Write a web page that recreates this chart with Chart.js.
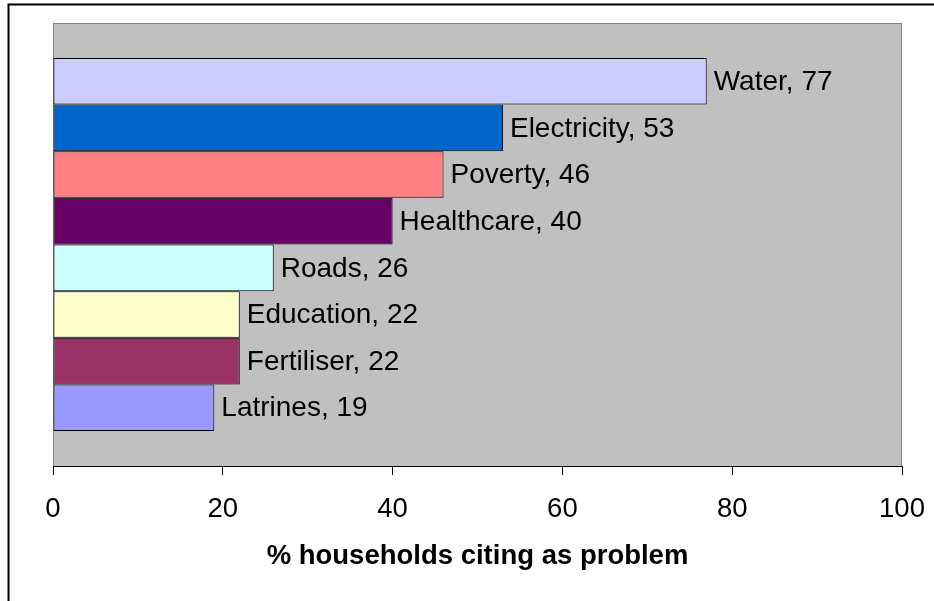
<!DOCTYPE html>
<html>
<head>
<meta charset="utf-8">
<script src="https://cdn.jsdelivr.net/npm/chart.js@4"></script>
<style>
  html, body { margin: 0; padding: 0; background: #fff; }
  canvas { display: block; }
</style>
</head>
<body>
<canvas id="chart" width="934" height="601"></canvas>
<script>
// Problems cited by households (% of households)
const categories = ['Water', 'Electricity', 'Poverty', 'Healthcare', 'Roads', 'Education', 'Fertiliser', 'Latrines'];
const values = [77, 53, 46, 40, 26, 22, 22, 19];
const barColors = ['#CCCCFF', '#0066CC', '#FF8080', '#660066', '#CCFFFF', '#FFFFCC', '#993366', '#9999FF'];
const xTickValues = [0, 20, 40, 60, 80, 100];
const axisTitle = '% households citing as problem';

const FONT = "'Liberation Sans', Arial, sans-serif";

// One category row, one dataset per problem so the bars sit flush together
const datasets = categories.map((name, i) => ({
  label: name,
  data: [values[i]],
  backgroundColor: barColors[i],
  borderColor: '#000000',
  borderWidth: 1,
  borderSkipped: false,
  categoryPercentage: 0.842,
  barPercentage: 1
}));

// Page background, grey plot area and the frame line on the left/top
const backdrop = {
  id: 'backdrop',
  beforeDraw(chart) {
    const { ctx, chartArea: a } = chart;
    ctx.save();
    ctx.fillStyle = '#ffffff';
    ctx.fillRect(0, 0, chart.width, chart.height);
    ctx.strokeStyle = '#000000';
    ctx.lineWidth = 2;
    ctx.beginPath();
    ctx.moveTo(8.5, chart.height);
    ctx.lineTo(8.5, 4.5);
    ctx.lineTo(chart.width, 4.5);
    ctx.stroke();
    ctx.fillStyle = '#C0C0C0';
    ctx.fillRect(a.left, a.top, a.right - a.left, a.bottom - a.top);
    ctx.strokeStyle = '#808080';
    ctx.lineWidth = 1;
    ctx.strokeRect(a.left + 0.5, a.top + 0.5, a.right - a.left - 1, a.bottom - a.top);
    ctx.restore();
  }
};

// "Name, value" text just past the end of each bar
const barLabels = {
  id: 'barLabels',
  afterDatasetsDraw(chart) {
    const { ctx } = chart;
    ctx.save();
    ctx.font = '28px ' + FONT;
    ctx.fillStyle = '#000000';
    ctx.textAlign = 'left';
    ctx.textBaseline = 'middle';
    chart.data.datasets.forEach((ds, i) => {
      const bar = chart.getDatasetMeta(i).data[0];
      ctx.fillText(ds.label + ', ' + ds.data[0], bar.x + 7, bar.y + 1);
    });
    ctx.restore();
  }
};

new Chart(document.getElementById('chart'), {
  type: 'bar',
  data: { labels: [''], datasets },
  options: {
    indexAxis: 'y',
    responsive: false,
    animation: false,
    devicePixelRatio: 1,
    layout: { padding: { left: 53, right: 32, top: 23, bottom: 0 } },
    plugins: {
      legend: { display: false },
      tooltip: { enabled: false }
    },
    scales: {
      y: { display: false },
      x: {
        min: 0,
        max: 100,
        afterBuildTicks(scale) {
          scale.ticks = xTickValues.map(v => ({ value: v }));
        },
        afterFit(scale) {
          scale.height = 135;
          scale.paddingLeft = 0;
          scale.paddingRight = 0;
        },
        grid: {
          drawOnChartArea: false,
          drawTicks: true,
          tickLength: 9,
          tickColor: '#000000',
          lineWidth: 1
        },
        border: { display: true, color: '#000000', width: 1 },
        ticks: {
          color: '#000000',
          font: { family: FONT, size: 27.5 },
          padding: 18,
          maxRotation: 0
        },
        title: {
          display: true,
          text: axisTitle,
          color: '#000000',
          font: { family: FONT, size: 27.5, weight: 'bold' },
          padding: { top: 0, bottom: 28 }
        }
      }
    }
  },
  plugins: [backdrop, barLabels]
});
</script>
</body>
</html>
